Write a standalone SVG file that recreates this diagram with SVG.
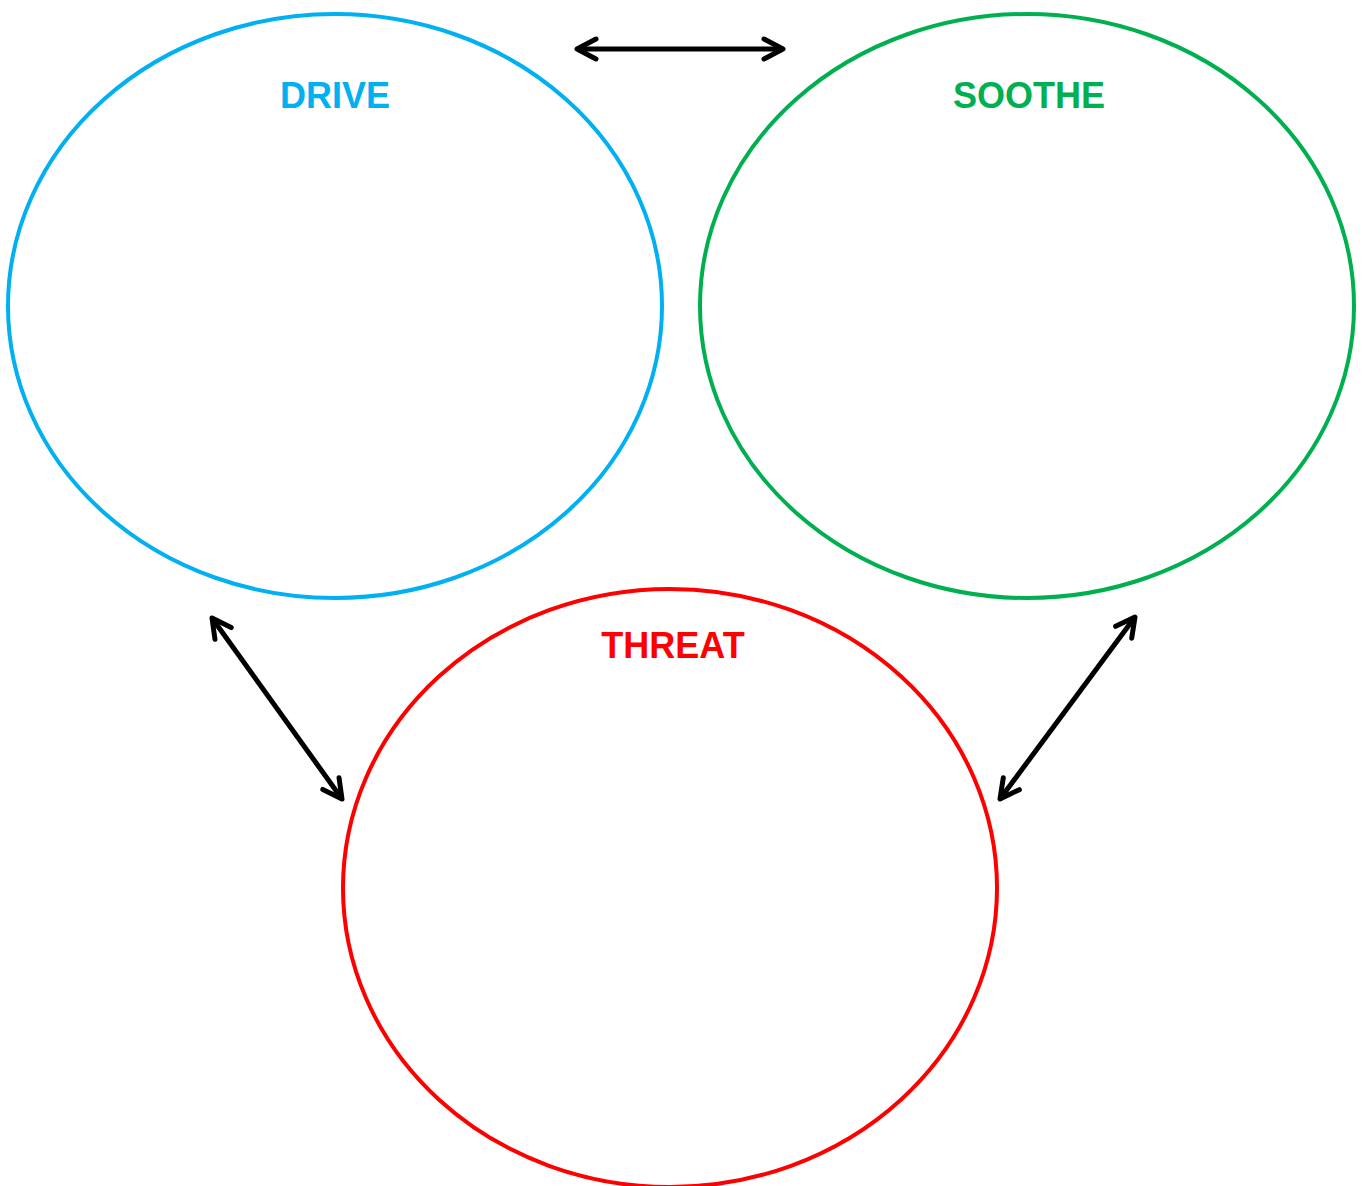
<svg xmlns="http://www.w3.org/2000/svg" width="1364" height="1186" viewBox="0 0 1364 1186">
  <style>
    .ell { fill: none; stroke-width: 4; }
    .lbl { font-family: "Liberation Sans", Arial, sans-serif; font-weight: bold; font-size: 36px; text-anchor: middle; }
    .conn { fill: none; stroke: #000; stroke-width: 5; marker-start: url(#head); marker-end: url(#head); }
  </style>
  <defs>
    <marker id="head" markerUnits="userSpaceOnUse" viewBox="-25 -15 30 30" refX="0" refY="0" markerWidth="30" markerHeight="30" orient="auto-start-reverse">
      <path d="M-19,-10 L0,0 L-19,10" fill="none" stroke="#000" stroke-width="5" stroke-linecap="round" stroke-linejoin="round"/>
    </marker>
  </defs>
  <rect width="1364" height="1186" fill="#fff"/>
  <g id="drive">
    <ellipse class="ell" cx="335" cy="306" rx="327" ry="292" stroke="#00B0F0"/>
    <text class="lbl" x="335" y="108" fill="#00B0F0">DRIVE</text>
  </g>
  <g id="soothe">
    <ellipse class="ell" cx="1027" cy="306" rx="327" ry="292" stroke="#00B050"/>
    <text class="lbl" x="1029" y="108" fill="#00B050">SOOTHE</text>
  </g>
  <g id="threat">
    <ellipse class="ell" cx="670" cy="888" rx="327" ry="299" stroke="#FF0000"/>
    <text class="lbl" x="673" y="658" fill="#FF0000">THREAT</text>
  </g>
  <g id="connectors">
    <path class="conn" d="M577,49 L783,49"/>
    <path class="conn" d="M212,618 L342,799"/>
    <path class="conn" d="M1135,617 L1000,799"/>
  </g>
</svg>
